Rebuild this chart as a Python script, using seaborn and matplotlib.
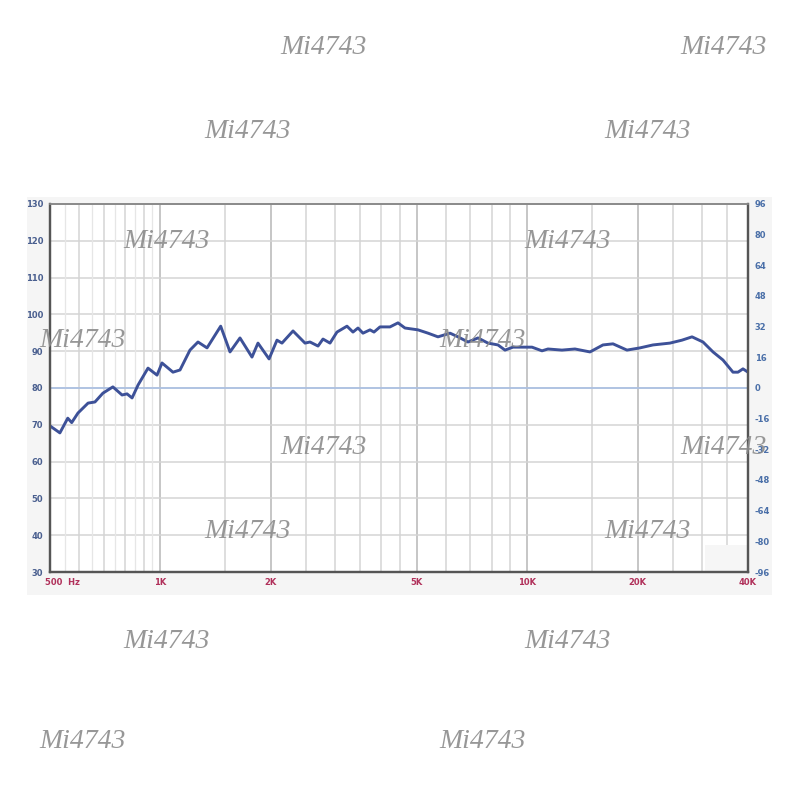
import seaborn as sns
import pandas as pd
import matplotlib.pyplot as plt
import matplotlib.transforms as mtransforms
from matplotlib.patches import Rectangle

##############################################
# frequency response
freq_hz = [500, 532, 559, 573, 596, 635, 663, 697, 742, 786, 811, 837, 869, 925,
           979, 1010, 1082, 1131, 1204, 1266, 1340, 1460, 1548, 1648, 1777, 1845,
           1978, 2079, 2145, 2299, 2479, 2558, 2690, 2775, 2900, 3030, 3226, 3350,
           3457, 3567, 3728, 3822, 3969, 4226, 4444, 4643, 5038, 5366, 5712, 6161,
           6477, 6896, 7343, 7818, 8325, 8700, 9148, 9680, 10306, 10975, 11394,
           12440, 13500, 14835, 16092, 17137, 18710, 20300, 22025, 24500, 26427,
           28146, 30155, 32110, 34186, 36400, 37560, 38755, 40000]
spl_db = [69.7, 67.8, 71.8, 70.6, 73.2, 75.9, 76.2, 78.6, 80.3, 78.1, 78.4, 77.3,
          80.8, 85.4, 83.5, 86.8, 84.3, 84.9, 90.3, 92.5, 90.9, 96.8, 89.8, 93.6,
          88.4, 92.2, 87.9, 93.0, 92.2, 95.5, 92.2, 92.5, 91.4, 93.3, 92.2, 95.2,
          96.8, 95.2, 96.3, 94.9, 95.8, 95.2, 96.6, 96.6, 97.7, 96.3, 95.8, 94.9,
          93.9, 94.9, 93.9, 92.5, 93.6, 92.2, 91.7, 90.3, 91.1, 91.1, 91.1, 90.1,
          90.6, 90.3, 90.6, 89.8, 91.7, 92.0, 90.3, 90.9, 91.7, 92.2, 93.0, 93.9,
          92.5, 89.8, 87.6, 84.3, 84.3, 85.2, 84.3]

# axis ticks
x_ticks = [500, 1000, 2000, 5000, 10000, 20000, 40000]
x_labels = ["500  Hz", "1K", "2K", "5K", "10K", "20K", "40K"]
x_minor = [600, 700, 800, 900, 1500, 2500, 3000, 3500, 4000, 4500,
           6000, 7000, 8000, 9000, 15000, 25000, 30000, 35000]
x_faint = [550, 650, 750, 850, 950]
left_ticks = list(range(30, 131, 10))
right_ticks = list(range(-96, 97, 16))

# watermark text and where it sits (figure pixels, from top-left)
watermark = "Mi4743"
watermark_pos = [(324, 47), (724, 47), (248, 131), (648, 131),
                 (167, 242), (568, 242), (83, 340), (483, 340),
                 (324, 447), (724, 447), (248, 531), (648, 531),
                 (167, 641), (568, 641), (83, 741), (483, 741)]

df = pd.DataFrame({"freq": freq_hz, "spl": spl_db})

sns.set_style("white")
plt.rcParams["font.family"] = ["DejaVu Sans"]

fig = plt.figure(figsize=(8, 8), dpi=100)
W, H = 800, 800

# light grey panel behind the chart
fig.patches.append(Rectangle((27 / W, 1 - 595 / H), 745 / W, 398 / H,
                             transform=fig.transFigure, facecolor="#f5f5f5",
                             edgecolor="none", zorder=-5))

ax = fig.add_axes([50 / W, 1 - 572 / H, 698 / W, 368 / H])
ax.set_facecolor("white")

ax.set_xscale("log")
ax.set_xlim(500, 40000)
ax.set_ylim(30, 130)

# grid
ax.set_xticks(x_ticks)
ax.set_xticks(x_minor, minor=True)
ax.set_xticklabels(x_labels)
ax.set_xticklabels([], minor=True)
ax.set_yticks(left_ticks)
ax.grid(which="major", axis="x", color="#c2c2c2", lw=1.3, zorder=1)
ax.grid(which="minor", axis="x", color="#d4d4d4", lw=1.1, zorder=1)
ax.grid(which="major", axis="y", color="#d4d4d4", lw=1.1, zorder=1)
for f in x_faint:
    ax.axvline(f, color="#e6e6e6", lw=0.9, zorder=0.9)
ax.axhline(80, color="#a9bfe3", lw=1.2, zorder=1.5)

# faint patch in the lower-right corner
ax.add_patch(Rectangle((30600, 30.2), 9200, 7.1, facecolor="#f6f6f6",
                       edgecolor="none", zorder=1.8))

sns.lineplot(data=df, x="freq", y="spl", ax=ax, color="#3d5198", lw=2.1,
             errorbar=None, zorder=3)
ax.set_xlabel("")
ax.set_ylabel("")

# tick styling
ax.tick_params(axis="both", which="both", length=0)
ax.tick_params(axis="x", pad=4, labelsize=6, labelcolor="#b0305a")
ax.tick_params(axis="y", pad=5, labelsize=6, labelcolor="#4a5f8f")
for lbl in ax.get_xticklabels() + ax.get_yticklabels():
    lbl.set_fontweight("bold")
first = ax.get_xticklabels()[0]
first.set_horizontalalignment("left")
first.set_transform(first.get_transform()
                    + mtransforms.ScaledTranslation(-5 / 100, 0, fig.dpi_scale_trans))

ax2 = ax.twinx()
ax2.set_ylim(-96, 96)
ax2.set_yticks(right_ticks)
ax2.set_yticklabels([str(t) for t in right_ticks])
ax2.tick_params(axis="y", length=0, pad=5, labelsize=6, labelcolor="#4a6fa8")
for lbl in ax2.get_yticklabels():
    lbl.set_fontweight("bold")

for a in (ax, ax2):
    for side, sp in a.spines.items():
        sp.set_color("#555555")
        sp.set_linewidth(1.6)
    a.spines["top"].set_color("#8a8a8a")
    a.spines["top"].set_linewidth(1.2)

# watermarks
for px, py in watermark_pos:
    fig.text(px / W, 1 - py / H, watermark, ha="center", va="center",
             fontsize=20, style="italic", family="Liberation Serif",
             color="#8c8c8c", alpha=0.9, zorder=10)

plt.savefig("out.png", dpi=100)
plt.close()
